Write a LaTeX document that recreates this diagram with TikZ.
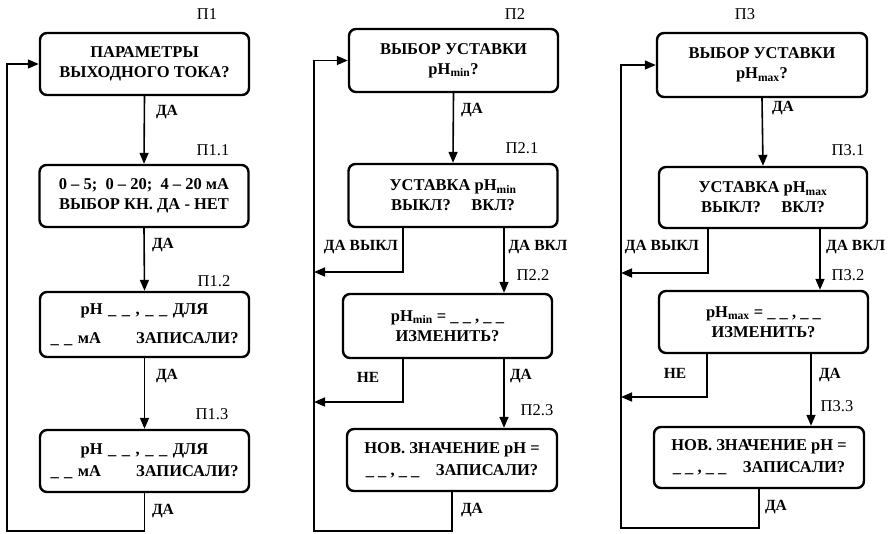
\documentclass[tikz,border=0pt]{standalone}
\usepackage{fontspec}
\setmainfont{Liberation Serif}
\usetikzlibrary{arrows.meta}
\begin{document}
\begin{tikzpicture}[x=1pt,y=-1pt,
  box/.style={draw, line width=2.4pt, rounded corners=7pt, align=center, inner sep=0pt,
    minimum width=209pt, minimum height=62pt, font=\bfseries\fontsize{16.5}{20}\selectfont},
  conn/.style={line width=1.6pt},
  arr/.style={conn, -{Triangle[length=11pt,width=9pt]}},
  tag/.style={font=\fontsize{16.5}{16.5}\selectfont, inner sep=0pt},
  yes/.style={font=\bfseries\fontsize{15.5}{15.5}\selectfont, inner sep=0pt}]
\useasboundingbox (0,0) rectangle (894,533);
\newcommand{\us}{\_ \_}
% column 1
\node[box] (p1) at (144.5,64) {ПАРАМЕТРЫ\\ВЫХОДНОГО ТОКА?};
\node[box] (p11) at (144,196) {0 – 5;\ \ 0 – 20;\ \ 4 – 20 мА\\ВЫБОР КН. ДА - НЕТ};
\node[box, minimum height=65pt, text width=188pt] (p12) at (144.5,324.5) {pH \us\ , \us\ ДЛЯ\\[9pt]\us\ мА\hfill ЗАПИСАЛИ?};
\node[box, text width=188pt] (p13) at (144.5,461) {pH \us\ , \us\ ДЛЯ\\[2pt]\us\ мА\hfill ЗАПИСАЛИ?};
\coordinate (c1) at (7,531);
\draw[arr] (p1.south) -- (p11.north);
\draw[arr] (p11.south) -- (p12.north);
\draw[arr] (p12.south) -- (p13.north);
\draw[arr] (p13.south) |- (c1) |- (p1.west);
\node[tag] (t1) at (207,14) {П1};
\node[tag] (t11) at (213,150) {П1.1};
\node[tag] (t12) at (214,281) {П1.2};
\node[tag] (t13) at (212,414) {П1.3};
\node[yes] (y1) at (167,112) {ДА};
\node[yes] (y11) at (163,245) {ДА};
\node[yes] (y12) at (167,376) {ДА};
\node[yes] (y13) at (163,511) {ДА};
% column 2
\node[box, minimum height=63pt] (p2) at (453.5,60.5) {ВЫБОР УСТАВКИ\\pH\textsubscript{min}?};
\node[box, minimum height=63pt] (p21) at (453,195.5) {УСТАВКА pH\textsubscript{min}\\ВЫКЛ?\quad\ ВКЛ?};
\node[box, minimum height=64pt] (p22) at (447.5,326) {pH\textsubscript{min} = \us\ , \us\\ИЗМЕНИТЬ?};
\node[box, minimum width=210pt] (p23) at (452,460) {НОВ. ЗНАЧЕНИЕ pH =\\[2pt]\us\ , \us\hspace{1em}ЗАПИСАЛИ?};
\coordinate (c2) at (314,531);
\coordinate (c2a) at (314,272);
\coordinate (c2b) at (314,402);
\draw[arr] (p2.south) -- (p21.north);
\draw[arr] ([xshift=-50pt]p21.south) |- (c2a);
\draw[arr] ([xshift=51pt]p21.south) -- ([xshift=51pt]p21.south |- p22.north);
\draw[arr] ([xshift=-44.5pt]p22.south) |- (c2b);
\draw[arr] ([xshift=56.5pt]p22.south) -- ([xshift=56.5pt]p22.south |- p23.north);
\draw[arr] (p23.south) |- (c2) |- (p2.west);
\node[tag] (t2) at (515,14) {П2};
\node[tag] (t21) at (522,148) {П2.1};
\node[tag] (t22) at (533,275) {П2.2};
\node[tag] (t23) at (537,410) {П2.3};
\node[yes] (y2) at (472,110) {ДА};
\node[yes] (y21a) at (361,247) {ДА ВЫКЛ};
\node[yes] (y21b) at (538,247) {ДА ВКЛ};
\node[yes] (y22a) at (368,377) {НЕ};
\node[yes] (y22b) at (521,376) {ДА};
\node[yes] (y23) at (472,510) {ДА};
% column 3
\node[box, minimum width=210pt, minimum height=64pt] (p3) at (762,65) {ВЫБОР УСТАВКИ\\pH\textsubscript{max}?};
\node[box, minimum width=208pt, minimum height=61pt] (p31) at (763,197.5) {УСТАВКА pH\textsubscript{max}\\ВЫКЛ?\quad\ ВКЛ?};
\node[box] (p32) at (763.5,322) {pH\textsubscript{max} = \us\ , \us\\ИЗМЕНИТЬ?};
\node[box, minimum width=210pt, minimum height=61pt] (p33) at (759,457.5) {НОВ. ЗНАЧЕНИЕ pH =\\[2pt]\us\ , \us\hspace{1em}ЗАПИСАЛИ?};
\coordinate (c3) at (621,528);
\coordinate (c3a) at (621,273);
\coordinate (c3b) at (621,397);
\draw[arr] (p3.south) -- (p31.north);
\draw[arr] ([xshift=-55pt]p31.south) |- (c3a);
\draw[arr] ([xshift=57pt]p31.south) -- ([xshift=57pt]p31.south |- p32.north);
\draw[arr] ([xshift=-56.5pt]p32.south) |- (c3b);
\draw[arr] ([xshift=47.5pt]p32.south) -- ([xshift=47.5pt]p32.south |- p33.north);
\draw[arr] (p33.south) |- (c3) |- (p3.west);
\node[tag] (t3) at (745,14) {П3};
\node[tag] (t31) at (848,150) {П3.1};
\node[tag] (t32) at (848,275) {П3.2};
\node[tag] (t33) at (837,406) {П3.3};
\node[yes] (y3) at (783,108) {ДА};
\node[yes] (y31a) at (662,247) {ДА ВЫКЛ};
\node[yes, anchor=west] (y31b) at (826,247) {ДА ВКЛ};
\node[yes] (y32a) at (675,373) {НЕ};
\node[yes] (y32b) at (830,375) {ДА};
\node[yes] (y33) at (776,507) {ДА};
\end{tikzpicture}
\end{document}
